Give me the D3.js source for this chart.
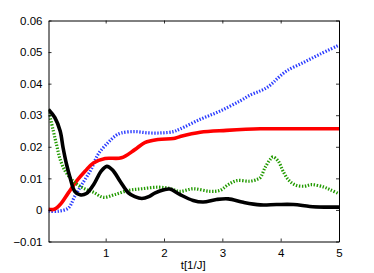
<!DOCTYPE html>
<html>
<head>
<meta charset="utf-8">
<script src="https://cdn.jsdelivr.net/npm/d3@7"></script>
<style>
  body { margin: 0; background: #fff; }
  svg text { font-family: "Liberation Sans", Arial, sans-serif; font-size: 11.5px; fill: #000; }
</style>
</head>
<body>
<div class="canvas"></div>
<script>
// curves, each with its own time samples (1/J)
const blackTimes = [0.02, 0.13, 0.22, 0.27, 0.33, 0.39, 0.47, 0.56, 0.67, 0.8, 0.92, 1.02, 1.12, 1.25, 1.39, 1.5, 1.62, 1.75, 1.85, 2.0, 2.1, 2.27, 2.5, 2.67, 2.9, 3.1, 3.36, 3.65, 3.93, 4.22, 4.5, 4.75, 5.0];
const blackVals = [0.0318, 0.0292, 0.0250, 0.0197, 0.0144, 0.0102, 0.0059, 0.0048, 0.0052, 0.0082, 0.0122, 0.0138, 0.0126, 0.0090, 0.0054, 0.0042, 0.0036, 0.0043, 0.0054, 0.0064, 0.0066, 0.0049, 0.0030, 0.0025, 0.0033, 0.0035, 0.0024, 0.0016, 0.0017, 0.0017, 0.0011, 0.0009, 0.0009];

const redTimes = [0.02, 0.12, 0.22, 0.36, 0.5, 0.65, 0.79, 0.99, 1.27, 1.5, 1.67, 1.9, 2.16, 2.27, 2.62, 3.07, 3.65, 4.22, 5.0];
const redVals = [0.0002, 0.0002, 0.0017, 0.0054, 0.0091, 0.0123, 0.0149, 0.0163, 0.0165, 0.0191, 0.0213, 0.0223, 0.0226, 0.0232, 0.0246, 0.0252, 0.0257, 0.0257, 0.0257];

const blueTimes = [0.02, 0.19, 0.36, 0.47, 0.59, 0.75, 0.87, 1.04, 1.17, 1.27, 1.5, 1.73, 1.96, 2.16, 2.27, 2.62, 2.96, 3.3, 3.5, 3.65, 3.76, 3.87, 3.93, 4.1, 4.39, 4.67, 5.0];
const blueVals = [-0.0004, -0.0004, 0.0006, 0.0043, 0.0080, 0.0128, 0.0176, 0.0213, 0.0235, 0.0244, 0.0248, 0.0244, 0.0244, 0.0248, 0.0256, 0.0287, 0.0313, 0.0345, 0.0366, 0.0377, 0.0387, 0.0403, 0.0414, 0.0440, 0.0467, 0.0493, 0.0522];

const greenTimes = [0.02, 0.1, 0.16, 0.22, 0.3, 0.39, 0.5, 0.65, 0.79, 0.96, 1.16, 1.39, 1.62, 1.9, 2.1, 2.27, 2.5, 2.79, 2.96, 3.1, 3.25, 3.47, 3.6, 3.65, 3.73, 3.82, 3.87, 3.96, 4.04, 4.13, 4.25, 4.4, 4.53, 4.73, 4.85, 5.0];
const greenVals = [0.0318, 0.0252, 0.0205, 0.0160, 0.0125, 0.0102, 0.0082, 0.0066, 0.0056, 0.0040, 0.0049, 0.0062, 0.0067, 0.0072, 0.0068, 0.0059, 0.0067, 0.0059, 0.0062, 0.0080, 0.0093, 0.0091, 0.0097, 0.0102, 0.0133, 0.0160, 0.0168, 0.0154, 0.0123, 0.0096, 0.0079, 0.0075, 0.0080, 0.0073, 0.0064, 0.0051];

const xTicks = [1, 2, 3, 4, 5];
const yTicks = [-0.01, 0, 0.01, 0.02, 0.03, 0.04, 0.05, 0.06];
const xLabel = 't[1/J]';

const width = 374, height = 273;
const margin = {top: 20.5, right: 35, bottom: 31.5, left: 48.5};
const graphWidth = width - margin.left - margin.right;
const graphHeight = height - margin.top - margin.bottom;

const svg = d3.select('.canvas')
    .append('svg')
    .attr('width', width)
    .attr('height', height);

const graph = svg.append('g')
    .attr('transform', `translate(${margin.left}, ${margin.top})`);

// scales
const x = d3.scaleLinear().domain([0.02, 5]).range([0, graphWidth]);
const y = d3.scaleLinear().domain([-0.01, 0.06]).range([graphHeight, 0]);

// clip so the thick lines stay inside the box
svg.append('clipPath').attr('id', 'plot-clip')
    .append('rect').attr('width', graphWidth).attr('height', graphHeight);

const line = d3.line()
    .x(d => x(d.t))
    .y(d => y(d.v))
    .curve(d3.curveCatmullRom.alpha(0.5));

const series = [
    {times: blueTimes, vals: blueVals, color: '#2b3cff', width: 3.2, dash: '1.4,1.6'},
    {times: redTimes, vals: redVals, color: '#ff0000', width: 3.6, dash: null},
    {times: greenTimes, vals: greenVals, color: '#229a00', width: 3.2, dash: '1.4,1.6'},
    {times: blackTimes, vals: blackVals, color: '#000000', width: 3.6, dash: null}
];

const lines = graph.append('g').attr('clip-path', 'url(#plot-clip)');
series.forEach(s => {
    const data = s.times.map((t, i) => ({t, v: s.vals[i]}));
    lines.append('path')
        .datum(data)
        .attr('fill', 'none')
        .attr('stroke', s.color)
        .attr('stroke-width', s.width)
        .attr('stroke-dasharray', s.dash)
        .attr('d', line);
});

// axes, ticks pointing inward on all four sides
const fmt = d => d === 0 ? '0' : d3.format('.2f')(d).replace('-', '\u2212');

graph.append('g')
    .attr('transform', `translate(0, ${graphHeight})`)
    .call(d3.axisBottom(x).tickValues(xTicks).tickSizeInner(-3).tickSizeOuter(0).tickPadding(7).tickFormat(d3.format('d')));
graph.append('g')
    .call(d3.axisTop(x).tickValues(xTicks).tickSizeInner(-3).tickSizeOuter(0).tickFormat(''));
graph.append('g')
    .call(d3.axisLeft(y).tickValues(yTicks).tickSizeInner(-3).tickSizeOuter(0).tickPadding(6).tickFormat(fmt));
graph.append('g')
    .attr('transform', `translate(${graphWidth}, 0)`)
    .call(d3.axisRight(y).tickValues(yTicks).tickSizeInner(-3).tickSizeOuter(0).tickFormat(''));

graph.selectAll('.domain').attr('stroke', '#000').attr('stroke-width', 1);
graph.selectAll('.tick line').attr('stroke', '#000').attr('stroke-width', 0.8);
graph.selectAll('.tick text').style('font-size', '11.5px').attr('fill', '#000');

// x label
graph.append('text')
    .attr('x', x(2.5))
    .attr('y', graphHeight + 27)
    .attr('text-anchor', 'middle')
    .text(xLabel);
</script>
</body>
</html>
